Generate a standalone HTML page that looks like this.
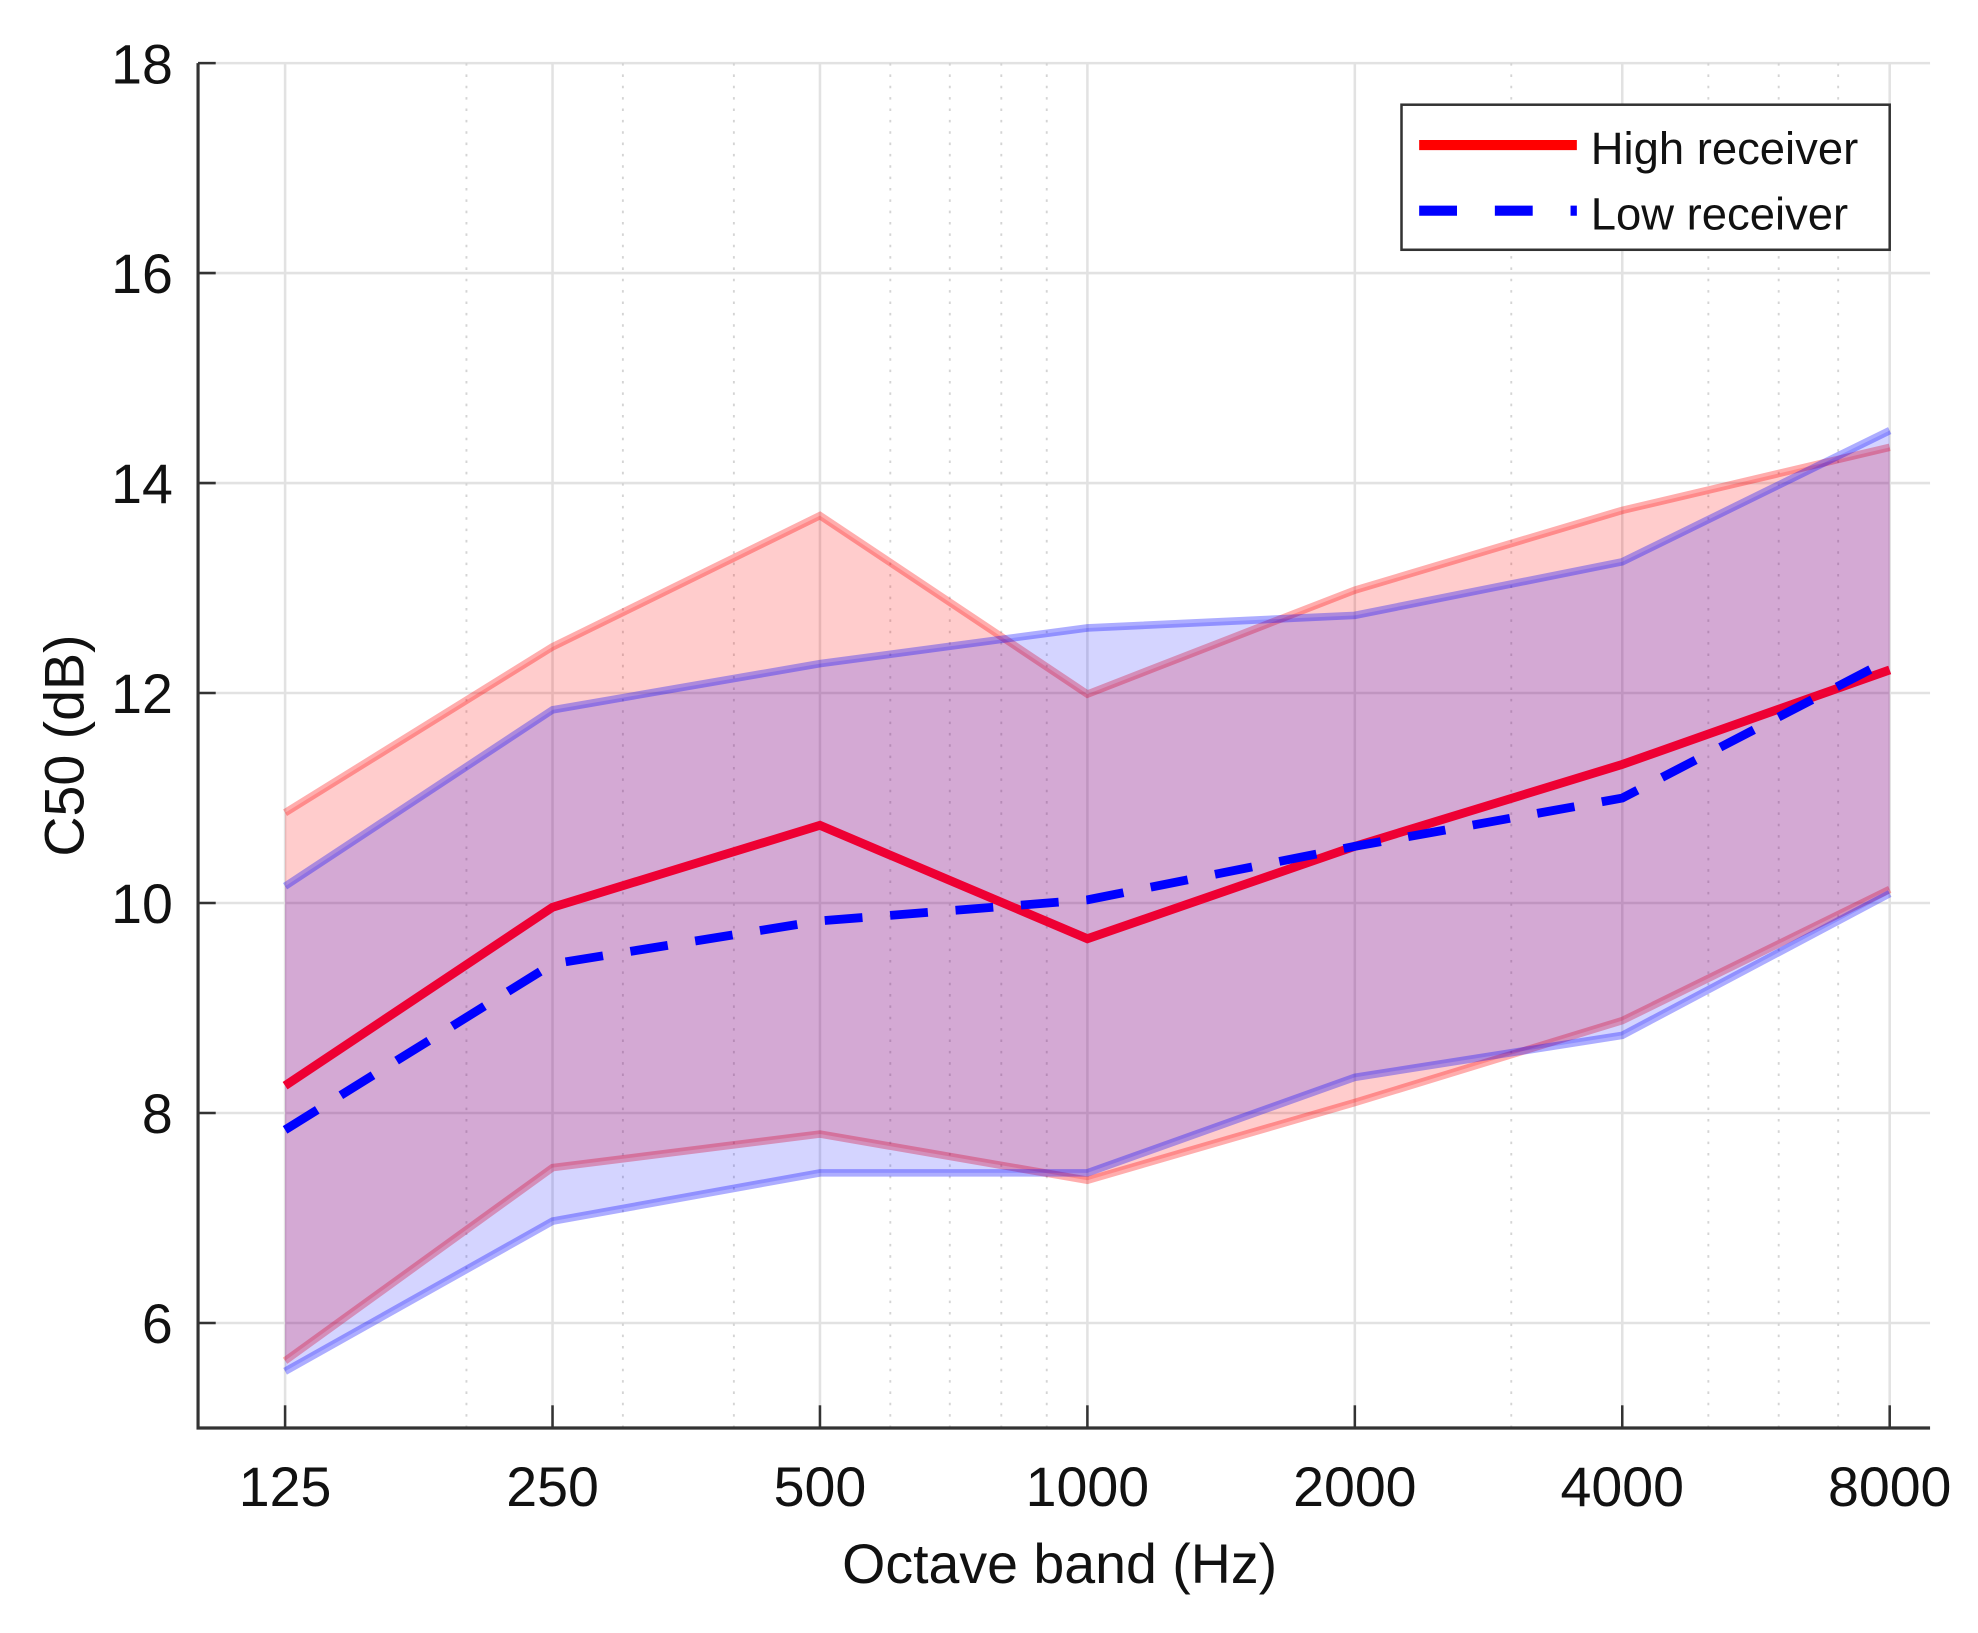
<!DOCTYPE html>
<html><head><meta charset="utf-8"><style>
html,body{margin:0;padding:0;background:#fff;}
svg{display:block;font-family:"Liberation Sans",Arial,sans-serif;}
</style></head><body>
<svg id="chart" width="1978" height="1633" viewBox="0 0 1568 1294.5" preserveAspectRatio="none" xmlns="http://www.w3.org/2000/svg">
<g id="grid"></g>
<g id="bands"></g>
<g id="lines"></g>
<g id="axes"></g>
<text x="840" y="1255" font-size="44" text-anchor="middle" fill="#111">Octave band (Hz)</text>
<text transform="translate(66,591) rotate(-90)" font-size="44" text-anchor="middle" fill="#111">C50 (dB)</text>
<g>
<rect x="1111" y="83" width="387" height="115" fill="#fff" stroke="#333" stroke-width="2"/>
<line x1="1125" y1="115" x2="1250" y2="115" stroke="#ff0000" stroke-width="8"/>
<text x="1261" y="130" font-size="36" fill="#111">High receiver</text>
<line x1="1125" y1="167" x2="1250" y2="167" stroke="#0000ff" stroke-width="8" stroke-dasharray="30,30"/>
<text x="1261" y="182" font-size="36" fill="#111">Low receiver</text>
</g>
</svg>
<script>
const freqs = [125, 250, 500, 1000, 2000, 4000, 8000];
const xTickLabels = ["125", "250", "500", "1000", "2000", "4000", "8000"];
const yTicks = [6, 8, 10, 12, 14, 16, 18];
const minorFreqs = [200, 300, 400, 600, 700, 800, 900, 3000, 5000, 6000, 7000];
const highMean = [8.26, 9.96, 10.74, 9.66, 10.54, 11.32, 12.22];
const highUpper = [10.86, 12.44, 13.69, 11.99, 12.98, 13.74, 14.34];
const highLower = [5.64, 7.48, 7.8, 7.36, 8.1, 8.88, 10.13];
const lowMean = [7.84, 9.42, 9.83, 10.03, 10.54, 11.0, 12.32];
const lowUpper = [10.16, 11.84, 12.28, 12.62, 12.74, 13.25, 14.5];
const lowLower = [5.54, 6.97, 7.43, 7.43, 8.34, 8.74, 10.09];

const L = 157, R = 1530, T = 50, B = 1132;
const yMin = 5, yMax = 18;
function xs(f){ return 226 + 212 * Math.log2(f / 125); }
function ys(v){ return B - (v - yMin) / (yMax - yMin) * (B - T); }
const NS = "http://www.w3.org/2000/svg";
function mk(tag, attrs, parent){
  const e = document.createElementNS(NS, tag);
  for (const k in attrs) e.setAttribute(k, attrs[k]);
  parent.appendChild(e); return e;
}
const grid = document.getElementById('grid');
const axes = document.getElementById('axes');
const bands = document.getElementById('bands');
const lines = document.getElementById('lines');

yTicks.forEach(v => {
  const g = mk('line', {x1: L, x2: R, y1: ys(v), y2: ys(v), stroke: '#e2e2e2', 'stroke-width': 2}, grid);
  
  
  const t = mk('line', {x1: L, x2: L + 14, y1: ys(v), y2: ys(v), stroke: '#333', 'stroke-width': 2}, axes);
  
  
  const lb = mk('text', {x: L - 20, y: ys(v) + 16, 'font-size': 44, 'text-anchor': 'end', fill: '#111'}, axes);
  lb.textContent = String(v);
  
  
});
minorFreqs.forEach(f => {
  const g = mk('line', {x1: xs(f), x2: xs(f), y1: T, y2: B, stroke: '#d4d4d4', 'stroke-width': 1.5, 'stroke-dasharray': '2,7'}, grid);
  
  
});
freqs.forEach((f, i) => {
  const g = mk('line', {x1: xs(f), x2: xs(f), y1: T, y2: B, stroke: '#e2e2e2', 'stroke-width': 2}, grid);
  
  
  const t = mk('line', {x1: xs(f), x2: xs(f), y1: B, y2: B - 18, stroke: '#333', 'stroke-width': 2}, axes);
  
  
  const lb = mk('text', {x: xs(f), y: 1194, 'font-size': 44, 'text-anchor': 'middle', fill: '#111'}, axes);
  lb.textContent = xTickLabels[i];
  
  
});
const ax = mk('path', {d: `M${L},${T}V${B}H${R}`, fill: 'none', stroke: '#333', 'stroke-width': 2.5}, axes);



function pts(arr){ return arr.map((v, i) => `${xs(freqs[i])},${ys(v)}`); }
function band(up, lo, color, fo, name){
  const p = pts(up).concat(pts(lo).reverse());
  const f = mk('polygon', {points: p.join(' '), fill: color, 'fill-opacity': fo}, bands);
  
  
  const u = mk('polyline', {points: pts(up).join(' '), fill: 'none', stroke: color, 'stroke-opacity': 0.32, 'stroke-width': 6}, bands);
  
  
  const l = mk('polyline', {points: pts(lo).join(' '), fill: 'none', stroke: color, 'stroke-opacity': 0.32, 'stroke-width': 6}, bands);
  
  
}
band(highUpper, highLower, '#ff0000', 0.2, 'high');
band(lowUpper, lowLower, '#0000ff', 0.17, 'low');

const hm = mk('polyline', {points: pts(highMean).join(' '), fill: 'none', stroke: '#ee0033', 'stroke-width': 7}, lines);


const lm = mk('polyline', {points: pts(lowMean).join(' '), fill: 'none', stroke: '#0000ff', 'stroke-width': 7, 'stroke-dasharray': '30,22'}, lines);


</script>
</body></html>
